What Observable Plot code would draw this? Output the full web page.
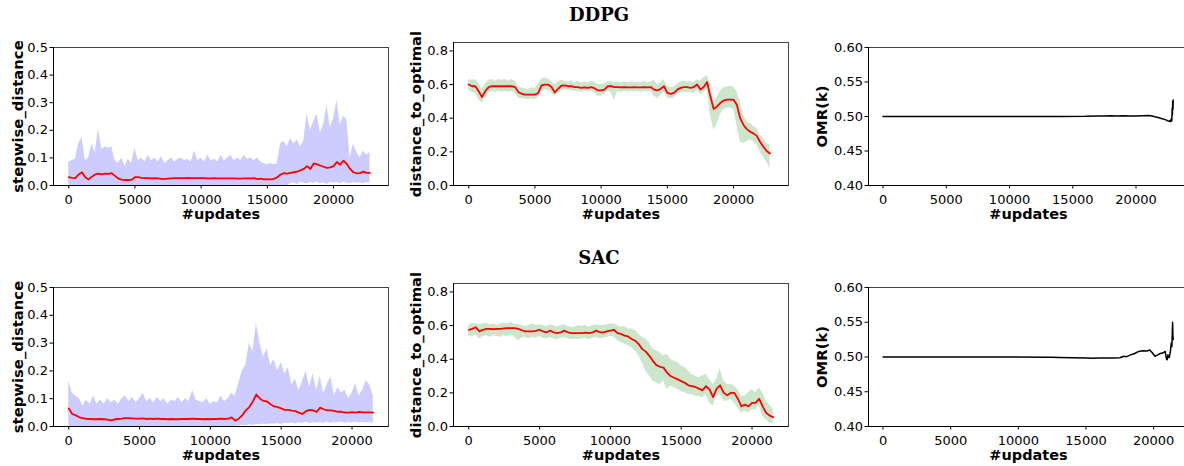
<!DOCTYPE html>
<html><head><meta charset="utf-8">
<script src="https://cdn.jsdelivr.net/npm/d3@7"></script>
<script src="https://cdn.jsdelivr.net/npm/@observablehq/plot@0.6"></script>
<style>
html,body{margin:0;padding:0;background:#fff;overflow:hidden;}
#fig{position:relative;width:1184px;height:466px;overflow:hidden;background:#fff;}
</style></head><body><div id="fig"></div>
<script>
// ---- data (sample interval in #updates) ----
const STEP = 250;
const xTicks = [0, 5000, 10000, 15000, 20000];

// DDPG stepwise_distance
const ddpgStepUpper = [0.085,0.09,0.095,0.15,0.175,0.09,0.1,0.15,0.12,0.205,
 0.13,0.14,0.135,0.14,0.09,0.08,0.1,0.07,0.095,0.08,
 0.135,0.09,0.1,0.085,0.11,0.09,0.1,0.085,0.105,0.08,
 0.09,0.1,0.085,0.095,0.1,0.09,0.095,0.085,0.125,0.09,
 0.1,0.085,0.11,0.09,0.095,0.085,0.11,0.09,0.1,0.11,
 0.09,0.1,0.09,0.11,0.095,0.1,0.09,0.1,0.085,0.08,
 0.075,0.08,0.075,0.08,0.15,0.16,0.14,0.17,0.15,0.165,
 0.14,0.16,0.26,0.2,0.23,0.26,0.19,0.22,0.29,0.21,
 0.24,0.31,0.22,0.25,0.24,0.1,0.15,0.12,0.1,0.125,
 0.11,0.12];
const ddpgStepLower = [0,0,0,0,0,0,0,0,0,0,
 0,0,0,0,0,0,0,0,0,0,
 0,0,0,0,0,0,0,0,0,0,
 0,0,0,0,0,0,0,0,0,0,
 0,0,0,0,0,0,0,0,0,0,
 0,0,0,0,0,0,0,0,0,0,
 0,0,0,0,0,0,0,0.006,0.01,0.004,
 0.012,0.008,0.005,0.011,0.007,0.013,0.006,0.01,0.004,0.012,
 0.008,0.011,0.006,0.013,0.009,0.005,0.012,0.008,0.01,0.006,
 0.011,0.009];
const ddpgStepMean = [0.03,0.028,0.027,0.04,0.048,0.03,0.022,0.032,0.04,0.043,
 0.04,0.043,0.042,0.045,0.035,0.025,0.021,0.02,0.02,0.021,
 0.03,0.03,0.028,0.027,0.027,0.026,0.027,0.026,0.024,0.024,
 0.025,0.026,0.027,0.027,0.027,0.027,0.028,0.027,0.027,0.027,
 0.027,0.027,0.026,0.026,0.027,0.026,0.026,0.026,0.026,0.026,
 0.026,0.025,0.025,0.026,0.026,0.026,0.027,0.023,0.025,0.022,
 0.022,0.022,0.024,0.03,0.04,0.045,0.043,0.046,0.048,0.05,
 0.055,0.06,0.07,0.06,0.08,0.077,0.072,0.068,0.064,0.066,
 0.07,0.085,0.075,0.09,0.078,0.06,0.048,0.044,0.045,0.05,
 0.046,0.046];

// DDPG distance_to_optimal
const ddpgDistMean = [0.6,0.59,0.59,0.56,0.525,0.56,0.585,0.59,0.59,0.59,
 0.59,0.59,0.59,0.59,0.585,0.555,0.545,0.54,0.54,0.54,
 0.54,0.55,0.595,0.6,0.6,0.585,0.553,0.575,0.593,0.595,
 0.59,0.59,0.585,0.585,0.58,0.583,0.58,0.585,0.578,0.565,
 0.565,0.57,0.59,0.59,0.585,0.585,0.583,0.585,0.583,0.583,
 0.585,0.583,0.583,0.585,0.583,0.585,0.57,0.565,0.575,0.59,
 0.55,0.545,0.55,0.57,0.58,0.585,0.585,0.58,0.585,0.6,
 0.57,0.585,0.615,0.53,0.455,0.47,0.49,0.505,0.51,0.51,
 0.51,0.48,0.4,0.36,0.335,0.32,0.31,0.295,0.26,0.23,
 0.205,0.19];
const ddpgDistUpper = [0.63,0.625,0.63,0.61,0.57,0.6,0.625,0.63,0.62,0.63,
 0.625,0.63,0.62,0.63,0.62,0.59,0.58,0.575,0.57,0.58,
 0.575,0.6,0.635,0.64,0.635,0.62,0.6,0.615,0.625,0.62,
 0.615,0.62,0.61,0.62,0.61,0.615,0.61,0.62,0.615,0.6,
 0.6,0.605,0.615,0.62,0.61,0.615,0.61,0.615,0.61,0.615,
 0.61,0.615,0.61,0.62,0.61,0.615,0.625,0.6,0.61,0.63,
 0.59,0.58,0.585,0.6,0.615,0.62,0.615,0.62,0.61,0.63,
 0.62,0.64,0.655,0.6,0.5,0.52,0.56,0.58,0.585,0.59,
 0.585,0.56,0.5,0.42,0.38,0.37,0.35,0.34,0.3,0.28,
 0.25,0.24];
const ddpgDistLower = [0.565,0.555,0.55,0.51,0.49,0.52,0.55,0.56,0.555,0.56,
 0.555,0.56,0.555,0.56,0.55,0.52,0.515,0.515,0.51,0.515,
 0.51,0.525,0.565,0.57,0.565,0.55,0.53,0.55,0.565,0.57,
 0.565,0.565,0.56,0.56,0.555,0.56,0.555,0.56,0.55,0.53,
 0.535,0.54,0.56,0.555,0.505,0.56,0.555,0.56,0.555,0.56,
 0.555,0.56,0.555,0.56,0.555,0.56,0.53,0.515,0.535,0.555,
 0.52,0.515,0.52,0.54,0.55,0.555,0.55,0.555,0.545,0.565,
 0.54,0.555,0.57,0.42,0.33,0.36,0.42,0.45,0.46,0.46,
 0.455,0.36,0.26,0.25,0.26,0.27,0.26,0.24,0.2,0.17,
 0.14,0.1];

// DDPG OMR(k)
const ddpgOmrX = [0,2000,4000,6000,8000,10000,12000,14000,16000,17000,17500,18000,18500,19000,19500,20000,20500,21000,21250,21500,21750,22000,22250,22400,22550,22650,22700,22750,22800,22830,22860,22880,22900,22920,22940];
const ddpgOmrY = [0.5,0.5,0.5,0.5,0.5,0.5,0.5,0.5,0.5002,0.5008,0.5006,0.501,0.5008,0.501,0.5007,0.5009,0.5012,0.5015,0.5008,0.4995,0.4985,0.497,0.4958,0.4948,0.4935,0.493,0.4945,0.4925,0.497,0.494,0.512,0.503,0.522,0.51,0.524];

// SAC stepwise_distance
const sacStepUpper = [0.165,0.12,0.11,0.1,0.075,0.095,0.08,0.11,0.08,0.095,
 0.08,0.1,0.085,0.095,0.08,0.1,0.11,0.09,0.105,0.085,
 0.1,0.12,0.09,0.1,0.085,0.105,0.09,0.1,0.08,0.095,
 0.09,0.105,0.085,0.1,0.09,0.13,0.095,0.09,0.085,0.1,
 0.08,0.09,0.085,0.11,0.09,0.1,0.12,0.11,0.155,0.2,
 0.22,0.3,0.27,0.37,0.3,0.25,0.28,0.22,0.24,0.2,
 0.23,0.19,0.21,0.15,0.17,0.13,0.16,0.2,0.14,0.19,
 0.13,0.18,0.12,0.15,0.18,0.11,0.14,0.12,0.13,0.1,
 0.12,0.155,0.11,0.13,0.165,0.15,0.11];
const sacStepLower = [0,0,0,0,0,0,0,0,0,0,
 0,0,0,0,0,0,0,0,0,0,
 0,0,0,0,0,0,0,0,0,0,
 0,0,0,0,0,0,0,0,0,0,
 0,0,0,0,0,0,0,0,0.002,0.004,
 0.003,0.006,0.004,0.007,0.005,0.009,0.006,0.01,0.008,0.011,
 0.007,0.012,0.01,0.013,0.009,0.014,0.011,0.015,0.01,0.014,
 0.012,0.015,0.011,0.016,0.012,0.014,0.013,0.016,0.011,0.015,
 0.013,0.016,0.012,0.015,0.013,0.014,0.012];
const sacStepMean = [0.065,0.045,0.04,0.033,0.03,0.027,0.027,0.026,0.026,0.027,
 0.026,0.025,0.022,0.026,0.027,0.028,0.03,0.03,0.029,0.028,
 0.028,0.029,0.027,0.028,0.027,0.028,0.027,0.027,0.026,0.027,
 0.026,0.026,0.027,0.027,0.027,0.028,0.027,0.027,0.026,0.027,
 0.026,0.027,0.027,0.028,0.027,0.028,0.033,0.021,0.028,0.04,
 0.058,0.07,0.09,0.115,0.1,0.092,0.09,0.08,0.072,0.07,
 0.065,0.06,0.06,0.057,0.055,0.05,0.045,0.055,0.06,0.058,
 0.052,0.068,0.062,0.058,0.058,0.056,0.053,0.053,0.05,0.05,
 0.052,0.05,0.053,0.051,0.051,0.051,0.05];

// SAC distance_to_optimal
const sacDistMean = [0.575,0.58,0.59,0.565,0.575,0.58,0.58,0.578,0.58,0.58,
 0.583,0.585,0.585,0.585,0.58,0.572,0.565,0.565,0.565,0.568,
 0.575,0.565,0.56,0.57,0.56,0.555,0.56,0.57,0.56,0.555,
 0.555,0.555,0.555,0.558,0.555,0.56,0.57,0.56,0.56,0.565,
 0.57,0.575,0.555,0.55,0.54,0.535,0.52,0.51,0.49,0.46,
 0.445,0.42,0.39,0.365,0.355,0.35,0.32,0.3,0.29,0.28,
 0.27,0.26,0.245,0.24,0.235,0.225,0.215,0.24,0.22,0.175,
 0.225,0.245,0.2,0.185,0.2,0.2,0.165,0.12,0.13,0.12,
 0.14,0.14,0.165,0.12,0.08,0.065,0.055];
const sacDistUpper = [0.6,0.615,0.61,0.605,0.61,0.615,0.605,0.61,0.6,0.61,
 0.615,0.61,0.62,0.605,0.61,0.6,0.595,0.6,0.61,0.6,
 0.605,0.6,0.595,0.605,0.6,0.59,0.6,0.605,0.595,0.59,
 0.59,0.6,0.595,0.6,0.59,0.6,0.605,0.6,0.6,0.605,
 0.61,0.61,0.6,0.59,0.595,0.58,0.58,0.57,0.55,0.53,
 0.52,0.5,0.46,0.45,0.44,0.42,0.43,0.4,0.39,0.38,
 0.36,0.35,0.33,0.31,0.3,0.29,0.3,0.31,0.28,0.25,
 0.28,0.345,0.27,0.25,0.25,0.24,0.22,0.18,0.18,0.2,
 0.22,0.2,0.23,0.2,0.15,0.13,0.1];
const sacDistLower = [0.54,0.53,0.545,0.52,0.535,0.54,0.53,0.54,0.535,0.53,
 0.54,0.535,0.545,0.53,0.51,0.525,0.53,0.52,0.53,0.525,
 0.535,0.525,0.52,0.53,0.52,0.515,0.525,0.53,0.52,0.515,
 0.52,0.515,0.52,0.525,0.515,0.525,0.53,0.52,0.525,0.53,
 0.535,0.53,0.51,0.5,0.49,0.48,0.47,0.45,0.42,0.38,
 0.33,0.3,0.27,0.26,0.25,0.27,0.22,0.24,0.23,0.22,
 0.21,0.2,0.19,0.19,0.18,0.18,0.17,0.19,0.14,0.12,
 0.18,0.19,0.15,0.15,0.16,0.14,0.11,0.08,0.09,0.08,
 0.1,0.1,0.12,0.06,0.04,0.02,0.02];

// SAC OMR(k)
const sacOmrX = [0,4000,8000,12000,12500,13000,14000,15000,15500,16000,16500,17000,17500,17800,18000,18300,18600,18900,19200,19500,19700,19900,20100,20300,20500,20700,20850,20950,21000,21050,21150,21250,21300,21350,21400,21430,21450];
const sacOmrY = [0.5,0.5,0.5,0.4998,0.4995,0.4993,0.499,0.4985,0.4982,0.4985,0.4984,0.4987,0.499,0.501,0.5005,0.503,0.505,0.508,0.509,0.5085,0.51,0.506,0.501,0.503,0.505,0.506,0.508,0.497,0.496,0.503,0.499,0.51,0.52,0.515,0.55,0.525,0.527];

// ---- helpers ----
const fig = document.getElementById("fig");
const FONT = "DejaVu Sans, Liberation Sans, sans-serif";
const band = (upper, lower, mean) => upper.map((u, i) => ({x: i * STEP, hi: u, lo: lower[i], m: mean[i]}));
const pairs = (xs, ys) => xs.map((x, i) => ({x, y: ys[i]}));

function panel({frame, xDomain, yDomain, yTicks, yFmt, yLabel, marks, title, titleDy, xlabDy, ylabDx}) {
  const mL = 70, mR = 10, mT = 45, mB = 45;
  const svg = Plot.plot({
    width: mL + frame.w + mR, height: mT + frame.h + mB,
    marginLeft: mL, marginRight: mR, marginTop: mT, marginBottom: mB,
    style: {fontFamily: FONT, fontSize: "13px", color: "#000", background: "transparent", overflow: "visible"},
    x: {domain: xDomain},
    y: {domain: yDomain},
    marks: [
      ...marks,
      Plot.frame({stroke: "#444", strokeWidth: 1}),
      Plot.ruleX([xDomain[0]], {stroke: "#000", strokeWidth: 1}),
      Plot.ruleY([yDomain[0]], {stroke: "#000", strokeWidth: 1}),
      Plot.axisX({ticks: xTicks, tickFormat: d3.format("d"), tickSize: 3.5, tickPadding: 5.5, label: null}),
      Plot.axisY({ticks: yTicks, tickFormat: d3.format(yFmt), tickSize: 3.5, tickPadding: 2, label: null}),
      Plot.text([yLabel], {frameAnchor: "left", rotate: -90, dx: ylabDx, text: d => d, fontWeight: "bold", fontSize: 14.8, textAnchor: "middle", lineAnchor: "middle"}),
      Plot.text(["#updates"], {frameAnchor: "bottom", dy: xlabDy, text: d => d, fontWeight: "bold", fontSize: 14.5, lineAnchor: "middle"}),
      ...(title ? [Plot.text([title], {frameAnchor: "top", dx: -22, dy: titleDy, lineAnchor: "middle", fontFamily: "DejaVu Serif, serif", fontWeight: "bold", fontSize: 18, letterSpacing: 3.5, text: d => d})] : [])
    ]
  });
  svg.style.position = "absolute";
  svg.style.left = (frame.l - mL) + "px";
  svg.style.top = (frame.t - mT) + "px";
  svg.style.maxWidth = "none";
  fig.appendChild(svg);
}

const ddpgDom = [-1150, 24150];
const sacDom = [-1075, 22575];
const BLUE = "#ccccff", GREEN = "#cce6cc", RED = "#ff0000";

const ddpgStep = band(ddpgStepUpper, ddpgStepLower, ddpgStepMean);
const ddpgDist = band(ddpgDistUpper, ddpgDistLower, ddpgDistMean);
const sacStep = band(sacStepUpper, sacStepLower, sacStepMean);
const sacDist = band(sacDistUpper, sacDistLower, sacDistMean);

// Row 1: DDPG
panel({frame: {l: 53, t: 47, w: 335, h: 138}, xDomain: ddpgDom, yDomain: [0, 0.5], yTicks: [0, 0.1, 0.2, 0.3, 0.4, 0.5], yFmt: ".1f",
  yLabel: "stepwise_distance", ylabDx: -35.5, xlabDy: 29,
  marks: [Plot.areaY(ddpgStep, {x: "x", y1: "lo", y2: "hi", fill: BLUE}), Plot.lineY(ddpgStep, {x: "x", y: "m", stroke: RED, strokeWidth: 1.8})]});
panel({frame: {l: 453, t: 42, w: 335, h: 143}, xDomain: ddpgDom, yDomain: [0, 0.85], yTicks: [0, 0.2, 0.4, 0.6, 0.8], yFmt: ".1f",
  yLabel: "distance_to_optimal", ylabDx: -37.5, xlabDy: 29, title: "DDPG", titleDy: -27,
  marks: [Plot.areaY(ddpgDist, {x: "x", y1: "lo", y2: "hi", fill: GREEN}), Plot.lineY(ddpgDist, {x: "x", y: "m", stroke: RED, strokeWidth: 1.8})]});
panel({frame: {l: 868, t: 47, w: 320, h: 138}, xDomain: ddpgDom, yDomain: [0.4, 0.6], yTicks: [0.4, 0.45, 0.5, 0.55, 0.6], yFmt: ".2f",
  yLabel: "OMR(k)", ylabDx: -46.5, xlabDy: 29,
  marks: [Plot.lineY(pairs(ddpgOmrX, ddpgOmrY), {x: "x", y: "y", stroke: "#000", strokeWidth: 1.5})]});

// Row 2: SAC
panel({frame: {l: 53, t: 287, w: 335, h: 139}, xDomain: sacDom, yDomain: [0, 0.5], yTicks: [0, 0.1, 0.2, 0.3, 0.4, 0.5], yFmt: ".1f",
  yLabel: "stepwise_distance", ylabDx: -35.5, xlabDy: 28.5,
  marks: [Plot.areaY(sacStep, {x: "x", y1: "lo", y2: "hi", fill: BLUE}), Plot.lineY(sacStep, {x: "x", y: "m", stroke: RED, strokeWidth: 1.8})]});
panel({frame: {l: 453, t: 283, w: 335, h: 143}, xDomain: sacDom, yDomain: [0, 0.85], yTicks: [0, 0.2, 0.4, 0.6, 0.8], yFmt: ".1f",
  yLabel: "distance_to_optimal", ylabDx: -37.5, xlabDy: 28.5, title: "SAC", titleDy: -25,
  marks: [Plot.areaY(sacDist, {x: "x", y1: "lo", y2: "hi", fill: GREEN}), Plot.lineY(sacDist, {x: "x", y: "m", stroke: RED, strokeWidth: 1.8})]});
panel({frame: {l: 868, t: 287, w: 320, h: 139}, xDomain: sacDom, yDomain: [0.4, 0.6], yTicks: [0.4, 0.45, 0.5, 0.55, 0.6], yFmt: ".2f",
  yLabel: "OMR(k)", ylabDx: -46.5, xlabDy: 28.5,
  marks: [Plot.lineY(pairs(sacOmrX, sacOmrY), {x: "x", y: "y", stroke: "#000", strokeWidth: 1.5})]});
</script>
</body></html>
